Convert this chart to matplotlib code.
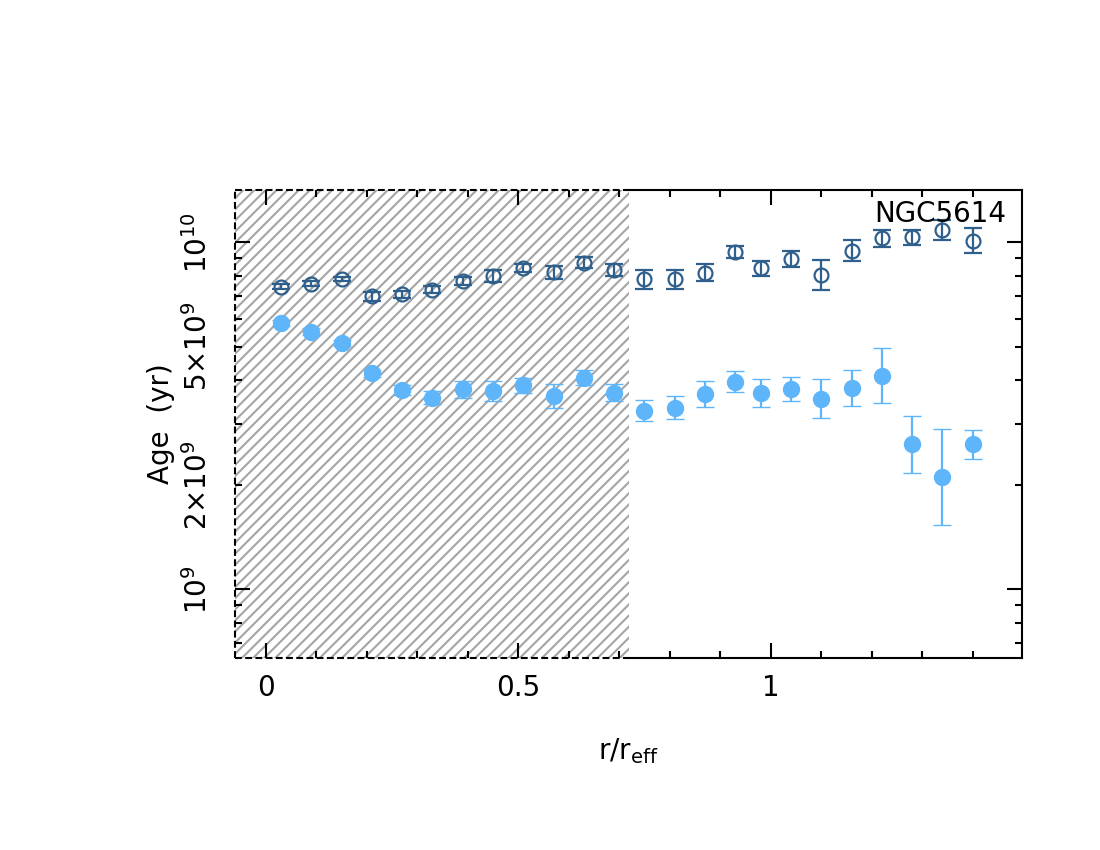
import matplotlib
matplotlib.use("Agg")
import matplotlib.pyplot as plt
import numpy as np
from matplotlib.patches import Rectangle
from matplotlib.ticker import FixedLocator, FuncFormatter

plt.rcParams['font.family'] = ['DejaVu Sans']
plt.rcParams['mathtext.fontset'] = 'dejavusans'
plt.rcParams['mathtext.default'] = 'regular'
plt.rcParams['hatch.linewidth'] = 1.5

# ---- data ----
r = [0.03, 0.09, 0.15, 0.21, 0.27, 0.33, 0.39, 0.45, 0.51, 0.57, 0.63, 0.69,
     0.75, 0.81, 0.87, 0.93, 0.98, 1.04, 1.10, 1.16, 1.22, 1.28, 1.34, 1.40]

# open circles (age in units of 1e9 yr), errors in dex
age_open = [7.45, 7.60, 7.84, 7.00, 7.08, 7.29, 7.75, 8.01, 8.45, 8.19, 8.73, 8.30,
            7.82, 7.82, 8.17, 9.40, 8.41, 8.95, 8.05, 9.46, 10.27, 10.34, 10.85, 10.09]
err_open = [0.007, 0.007, 0.007, 0.013, 0.010, 0.010, 0.012, 0.017, 0.012, 0.019, 0.016, 0.017,
            0.028, 0.028, 0.024, 0.017, 0.021, 0.022, 0.043, 0.031, 0.024, 0.022, 0.029, 0.036]

# filled circles
age_fill = [5.84, 5.53, 5.12, 4.19, 3.75, 3.57, 3.77, 3.73, 3.87, 3.61, 4.07, 3.69,
            3.27, 3.34, 3.65, 3.97, 3.67, 3.78, 3.54, 3.80, 4.13, 2.62, 2.11, 2.62]
err_fill = [0.009, 0.009, 0.009, 0.009, 0.014, 0.020, 0.024, 0.029, 0.022, 0.034, 0.022, 0.025,
            0.030, 0.033, 0.038, 0.029, 0.040, 0.035, 0.056, 0.051, 0.078, 0.082, 0.138, 0.042]

galaxy = "NGC5614"
mask_r = 0.72
xlim = (-0.061, 1.497)
ylim = (6.35e8, 1.415e10)
ytick_major = [1e9, 1e10]
ytick_major_labels = ['10$^{9}$', '10$^{10}$']
ytick_minor_labels = {2e9: '2×10$^{9}$', 5e9: '5×10$^{9}$'}

c_open = '#2f5f8c'
c_fill = '#5fb5fa'

fig = plt.figure(figsize=(11, 8.5), dpi=100)
ax = fig.add_axes([0.2136, 0.2262, 0.7152, 0.5503])
ax.set_yscale('log')
ax.set_xlim(*xlim)
ax.set_ylim(*ylim)


def to_err(vals, dex):
    v = np.array(vals) * 1e9
    d = np.array(dex)
    return v, np.vstack([v - v * 10 ** (-d), v * 10 ** d - v])


yo, eo = to_err(age_open, err_open)
yf, ef = to_err(age_fill, err_fill)

# hatched region
rect = Rectangle((xlim[0], ylim[0]), mask_r - xlim[0], ylim[1] - ylim[0],
                 facecolor='white', edgecolor='#a5a5a5', linewidth=0,
                 hatch='///', zorder=1)
ax.add_patch(rect)
dash = dict(color='black', lw=1.5, dashes=(3.3, 1.6), clip_on=False, zorder=3)
ax.plot([xlim[0], xlim[0]], [ylim[0], ylim[1]], **dash)
ax.plot([xlim[0], mask_r], [ylim[0], ylim[0]], **dash)
ax.plot([xlim[0], mask_r], [ylim[1], ylim[1]], **dash)

for s in ax.spines.values():
    s.set_linewidth(1.5)
ax.spines['left'].set_visible(False)
ax.spines['top'].set_bounds(mask_r, xlim[1])
ax.spines['bottom'].set_bounds(mask_r, xlim[1])

ax.errorbar(r, yo, yerr=eo, fmt='o', ms=10, mfc='none', mec=c_open, mew=1.6,
            ecolor=c_open, elinewidth=1.6, capsize=6.5, capthick=1.6, zorder=4)
ax.errorbar(r, yf, yerr=ef, fmt='o', ms=11.5, mfc=c_fill, mec=c_fill, mew=1.0,
            ecolor=c_fill, elinewidth=1.6, capsize=6.5, capthick=1.6, zorder=4)

# ticks
ax.set_xticks([0, 0.5, 1])
ax.set_xticklabels(['0', '0.5', '1'])
ax.xaxis.set_minor_locator(FixedLocator(np.arange(0.0, 1.5, 0.1)))
ax.yaxis.set_major_locator(FixedLocator(ytick_major))
ax.set_yticklabels(ytick_major_labels)
minor_y = [m * 10 ** e for e in (8, 9) for m in range(2, 10)]
ax.yaxis.set_minor_locator(FixedLocator(minor_y))


def minor_fmt(v, p):
    for k, s in ytick_minor_labels.items():
        if abs(k - v) < 1e6:
            return s
    return ''


ax.yaxis.set_minor_formatter(FuncFormatter(minor_fmt))

ax.tick_params(which='both', direction='in', top=True, right=True, width=1.5,
               labelsize=20)
ax.tick_params(which='major', length=10.5)
ax.tick_params(which='minor', length=5)
ax.tick_params(axis='x', which='both', pad=12)
ax.tick_params(axis='y', which='both', pad=16, labelrotation=90)
for lbl in ax.get_yticklabels(which='both'):
    lbl.set_va('center')

ax.set_xlabel('r/r$_{eff}$', fontsize=20, labelpad=24)
ax.set_ylabel('Age  (yr)', fontsize=20, labelpad=6)

ax.text(0.981, 0.932, galaxy, transform=ax.transAxes, ha='right', va='baseline',
        fontsize=20, zorder=5)

fig.savefig('out.png', dpi=100)
